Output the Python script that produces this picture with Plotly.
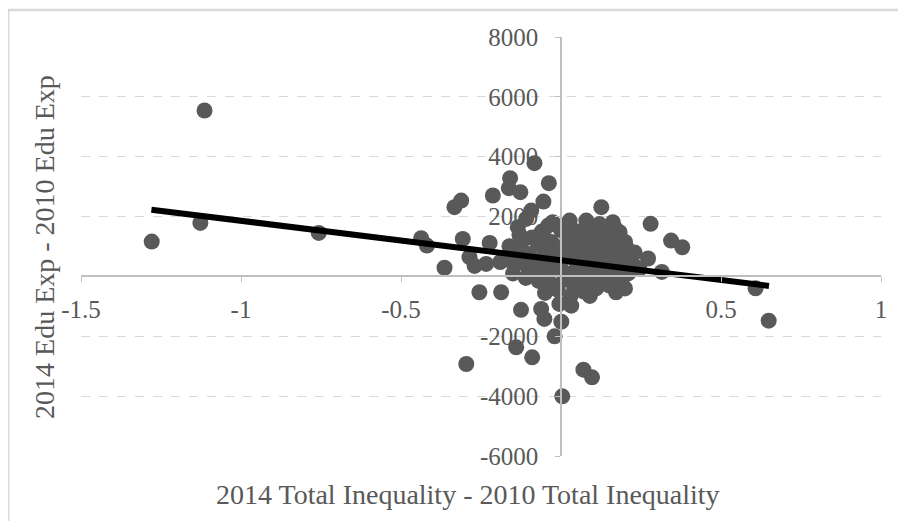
import plotly.graph_objects as go

# Scatter points (x: change in total inequality, y: change in education expenditure)
pts_x = [
    -1.279, -1.114, -1.127, -0.757, -0.437, -0.419, -0.364,
    0.608, 0.649, 0.379, 0.344, 0.280, 0.272, 0.315, 0.245,
    -0.083, -0.038, -0.159, -0.163, -0.127, -0.213, -0.312, -0.333, -0.055, 0.126, -0.093, -0.109, -0.135,
    -0.307, -0.223, -0.286, -0.234, -0.161, -0.072, -0.19, -0.15, -0.27,
    -0.255, -0.187, 0.172, -0.125, -0.062, -0.052, 0.001, -0.005, 0.032, -0.020, -0.140, -0.090, -0.296, 0.070, 0.097, 0.004,
    0.162, 0.183, 0.204,
    0.079, 0.027, 0.115, -0.026,
    -0.06, 0.00, 0.05, 0.09, 0.14, 0.18,
    -0.12, -0.03, 0.02, 0.06, 0.10, 0.13, 0.16,
    -0.14, -0.10, -0.05, -0.01, 0.03, 0.07, 0.11, 0.15, 0.19, 0.22,
    -0.12, -0.08, -0.04, 0.00, 0.04, 0.08, 0.12, 0.16, 0.20, 0.23,
    -0.10, -0.06, -0.02, 0.02, 0.05, 0.09, 0.13, 0.17, 0.21,
    -0.07, -0.03, 0.01, 0.04, 0.08, 0.12, 0.15, 0.19,
    -0.05, -0.01, 0.03, 0.07, 0.11,
    -0.16, -0.13, -0.09, -0.04, 0.03, 0.07, 0.12, 0.17, 0.20, 0.23,
    0.21, -0.11, -0.15, 0.06, 0.10, 0.14, 0.00, -0.05, 0.04, 0.16,
    0.18, 0.20, 0.09,
]
pts_y = [
    1164, 5544, 1789, 1455, 1277, 1030, 290,
    -395, -1478, 976, 1197, 1756, 600, 150, 250,
    3785, 3116, 3284, 2950, 2815, 2703, 2535, 2314, 2502, 2314, 2200, 1923, 1645,
    1254, 1120, 642, 418, 1010, 1087, 480, 450, 350,
    -529, -529, -529, -1115, -1087, -1421, -1511, -920, -976, -2000, -2368, -2702, -2926, -3116, -3371, -4006,
    1812, 1478, 976,
    1866, 1866, 1589, 1812,
    1500, 1550, 1450, 1350, 1450, 1250,
    1200, 1150, 1250, 1100, 1150, 1050, 1000,
    800, 750, 850, 700, 850, 750, 800, 700, 750, 650,
    450, 550, 400, 500, 600, 450, 500, 400, 550, 350,
    200, 150, 250, 100, 300, 200, 150, 250, 100,
    -150, -250, -100, -300, -200, -150, -300, -100,
    -550, -450, -650, -500, -400,
    600, 1400, 1300, 1700, 1650, 1550, 1750, 1600, 1150, 800,
    400, -50, 100, -50, 50, 650, 950, 1250, 1000, -200,
    50, -400, -650,
]

# Linear trendline endpoints
trend_x = [-1.28, 0.65]
trend_y = [2230, -318]

x_ticks = [-1.5, -1, -0.5, 0.5, 1]
x_tick_text = ["-1.5", "-1", "-0.5", "0.5", "1"]
y_ticks = [-6000, -4000, -2000, 2000, 4000, 6000, 8000]
y_tick_text = ["-6000", "-4000", "-2000", "2000", "4000", "6000", "8000"]

x_title = "2014 Total Inequality - 2010 Total Inequality"
y_title = "2014 Edu Exp - 2010 Edu Exp"

FONT = "Liberation Serif"
TXT = "#595959"

fig = go.Figure()
fig.add_trace(go.Scatter(
    x=pts_x, y=pts_y, mode="markers",
    marker=dict(size=16, color="#595959", line=dict(width=0)),
    showlegend=False, hoverinfo="skip",
))
fig.add_trace(go.Scatter(
    x=trend_x, y=trend_y, mode="lines",
    line=dict(color="black", width=6),
    showlegend=False, hoverinfo="skip",
))

fig.update_layout(
    width=906, height=521,
    margin=dict(l=73, r=33, t=29, b=73, autoexpand=False),
    paper_bgcolor="white", plot_bgcolor="white",
    font=dict(family=FONT, color=TXT),
    xaxis=dict(
        range=[-1.5, 1], tickvals=x_ticks, ticktext=x_tick_text,
        showgrid=False, zeroline=False, automargin=False,
        showline=True, linecolor="#bfbfbf", linewidth=1.5,
        ticks="outside", ticklen=5, tickcolor="#bfbfbf",
        tickfont=dict(family=FONT, size=25, color=TXT),
        ticklabelstandoff=6,
        anchor="free", position=6 / 14,
    ),
    yaxis=dict(
        range=[-6000, 8000], tickvals=y_ticks, ticktext=y_tick_text,
        showgrid=True, gridcolor="#d9d9d9", griddash="dash", gridwidth=1,
        zeroline=False, automargin=False,
        showline=True, linecolor="#bfbfbf", linewidth=1.5,
        ticks="outside", ticklen=5, tickcolor="#bfbfbf",
        tickfont=dict(family=FONT, size=25, color=TXT),
        ticklabelstandoff=12,
        anchor="free", position=0.6,
    ),
    annotations=[
        dict(text=x_title, xref="paper", yref="paper", x=0.484, y=-0.093,
             xanchor="center", yanchor="middle", showarrow=False,
             font=dict(family=FONT, size=28, color=TXT)),
        dict(text=y_title, xref="paper", yref="paper", x=-0.045, y=0.499,
             xanchor="center", yanchor="middle", showarrow=False, textangle=-90,
             font=dict(family=FONT, size=28, color=TXT)),
    ],
    shapes=[
        dict(type="rect", xref="paper", yref="paper",
             x0=-0.091, x1=1.04, y0=-0.17, y1=1.0644,
             line=dict(color="#d9d9d9", width=2.5), fillcolor="rgba(0,0,0,0)",
             layer="below"),
    ],
)

fig.write_html("out.html")
